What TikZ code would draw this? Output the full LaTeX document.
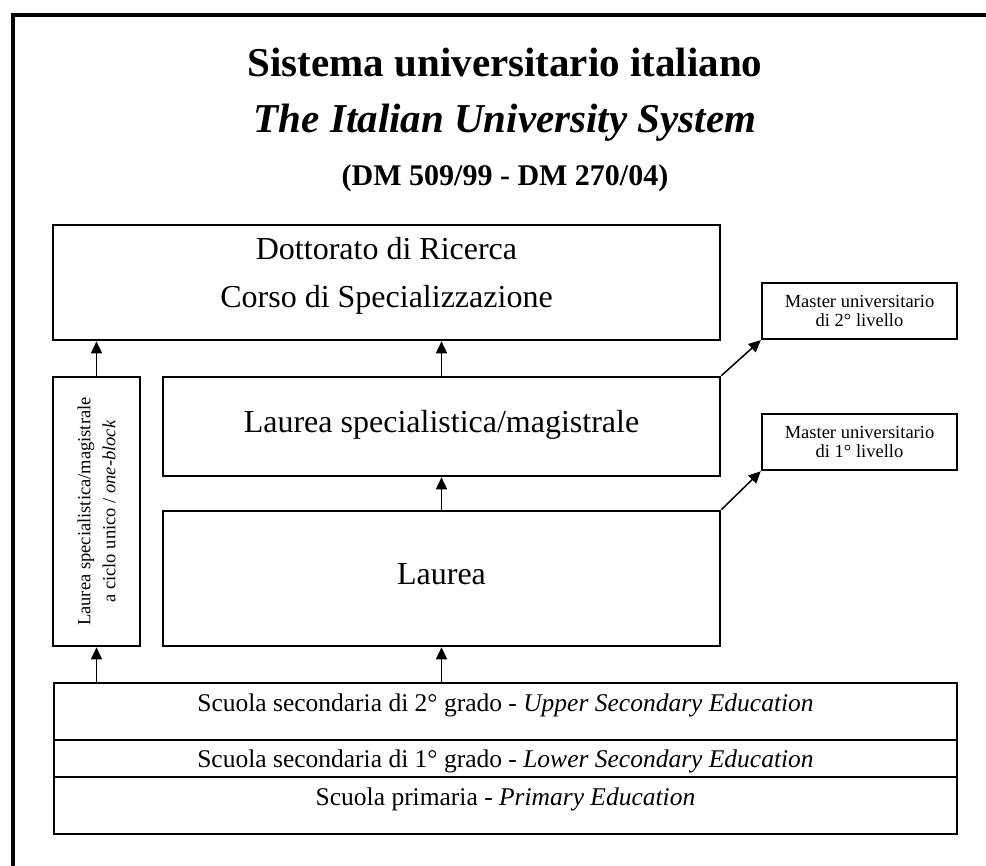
\documentclass[tikz,border=0pt]{standalone}
\usepackage{fontspec}
\setmainfont{Liberation Serif}
\usetikzlibrary{arrows.meta}
\begin{document}
\begin{tikzpicture}[x=1pt,y=1pt]
\tikzstyle{every node}+=[inner sep=0pt]
\tikzstyle{bigbox}=[draw, line width=2.6pt, font=\fontsize{32}{48}\selectfont]
\tikzstyle{mastbox}=[draw, line width=2.4pt, minimum width=195pt, minimum height=56pt, align=center, font=\fontsize{18.5}{18.5}\selectfont]
\tikzstyle{schoolrow}=[draw, line width=1.3pt, minimum width=903pt, text height=17pt, font=\fontsize{25.5}{30}\selectfont]
\tikzstyle{arr}=[line width=1.5pt, -{Triangle[length=12pt,width=11pt]}]
\useasboundingbox (0,0) rectangle (986,-866);
\draw [line width=4pt] (13,-880) -- (13,-15) -- (1000,-15);
\draw (505,-77) node [anchor=base, font=\fontsize{41}{48}\selectfont\bfseries] (tit) {Sistema universitario italiano};
\draw (505,-133) node [anchor=base, font=\fontsize{41}{48}\selectfont\bfseries\itshape] (sub) {The Italian University System};
\draw (505,-186) node [anchor=base, font=\fontsize{30}{34}\selectfont\bfseries] (dm) {(DM 509/99 - DM 270/04)};

\draw (386.5,-282.5) node [bigbox, minimum width=667pt, minimum height=115pt, text height=0pt, text depth=45pt] (dott)
  {\begin{tabular}[t]{@{}c@{}}Dottorato di Ricerca\\Corso di Specializzazione\end{tabular}};
\draw (441.5,-426.5) node [bigbox, minimum width=557pt, minimum height=99pt, text height=22pt, text depth=10pt] (lsm) {Laurea specialistica/magistrale};
\draw (441.5,-578.5) node [bigbox, minimum width=557pt, minimum height=135pt, text height=22pt, text depth=11pt] (lau) {Laurea};
\draw (96.5,-511.5) node [bigbox, rotate=90, minimum width=269pt, minimum height=87pt, align=center, font=\fontsize{18.5}{25}\selectfont] (ciclo)
  {Laurea specialistica/magistrale\\a ciclo unico / \textit{one-block}};
\draw (859.5,-311) node [mastbox] (mas2) {Master universitario\\di 2° livello};
\draw (859.5,-442) node [mastbox] (mas1) {Master universitario\\di 1° livello};

\draw (505.5,-711.5) node [schoolrow, minimum height=57pt, text depth=17pt] (sec2) {Scuola secondaria di 2° grado - \textit{Upper Secondary Education}};
\draw (505.5,-758.5) node [schoolrow, minimum height=37pt, text depth=0pt] (sec1) {Scuola secondaria di 1° grado - \textit{Lower Secondary Education}};
\draw (505.5,-805.5) node [schoolrow, minimum height=57pt, text depth=17pt] (prim) {Scuola primaria - \textit{Primary Education}};

\draw [arr] (ciclo.west |- sec2.north) -- (ciclo.west);

\draw [arr] (lau.south |- sec2.north) -- (lau.south);

\draw [arr] (ciclo.east) -- (ciclo.east |- dott.south);

\draw [arr] (lsm.north) -- (lsm.north |- dott.south);

\draw [arr] (lau.north) -- (lsm.south);

\draw [arr] (lsm.north east) -- (mas2.south west);

\draw [arr] (lau.north east) -- (mas1.south west);
\end{tikzpicture}
\end{document}
